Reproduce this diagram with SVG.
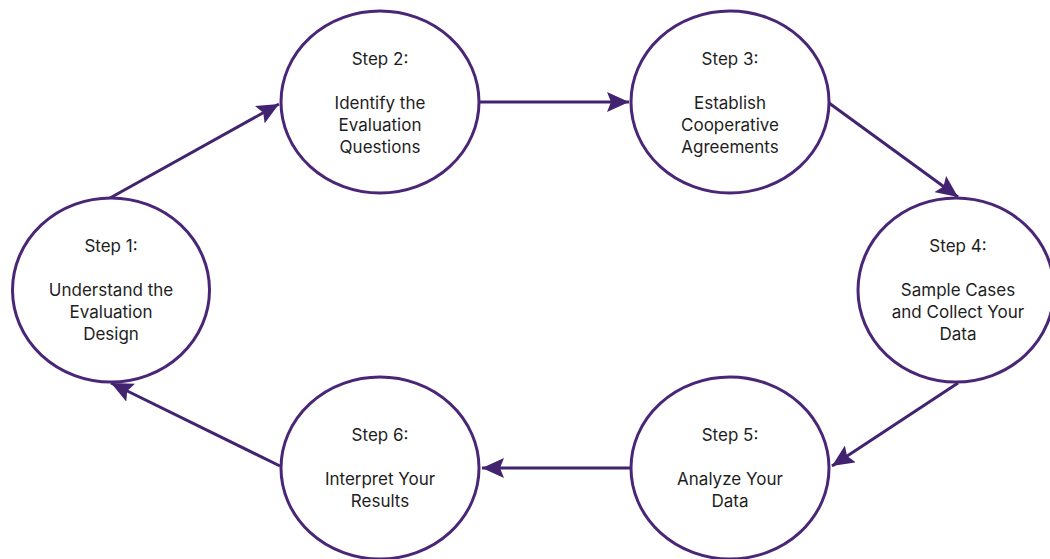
<svg xmlns="http://www.w3.org/2000/svg" width="1050" height="559" viewBox="0 0 1050 559">
<style>
.node ellipse{fill:#fff;stroke:#4a2677;stroke-width:3}
.node text{font-family:Inter,"Liberation Sans",sans-serif;font-size:17px;fill:#1e1e1e;text-anchor:middle}
.conn line{stroke:#42236f;stroke-width:3}
</style>
<defs>
<marker id="ah" markerUnits="userSpaceOnUse" markerWidth="24" markerHeight="20" refX="22" refY="10" orient="auto">
<path d="M0,0 L22,10 L0,20 L4,10 Z" fill="#42236f"/>
</marker>
</defs>
<rect width="1050" height="559" fill="#fff"/>
<g class="conn">
<line x1="110" y1="198" x2="279" y2="104" marker-end="url(#ah)"/>
<line x1="480" y1="102" x2="629" y2="102" marker-end="url(#ah)"/>
<line x1="829" y1="103" x2="958" y2="197" marker-end="url(#ah)"/>
<line x1="958" y1="383" x2="832" y2="466" marker-end="url(#ah)"/>
<line x1="630" y1="468" x2="482" y2="468" marker-end="url(#ah)"/>
<line x1="280" y1="466" x2="111" y2="383" marker-end="url(#ah)"/>
</g>
<g id="step1" class="node">
<ellipse cx="111" cy="290" rx="98.5" ry="92"/>
<text x="111" y="252">Step 1:</text>
<text x="111" y="296">Understand the</text>
<text x="111" y="318">Evaluation</text>
<text x="111" y="340">Design</text>
</g>
<g id="step2" class="node">
<ellipse cx="380" cy="102" rx="99" ry="91"/>
<text x="380" y="65">Step 2:</text>
<text x="380" y="109">Identify the</text>
<text x="380" y="131">Evaluation</text>
<text x="380" y="153">Questions</text>
</g>
<g id="step3" class="node">
<ellipse cx="730" cy="102" rx="99" ry="91"/>
<text x="730" y="65">Step 3:</text>
<text x="730" y="109">Establish</text>
<text x="730" y="131">Cooperative</text>
<text x="730" y="153">Agreements</text>
</g>
<g id="step4" class="node">
<ellipse cx="956" cy="290" rx="98" ry="92"/>
<text x="958" y="252">Step 4:</text>
<text x="958" y="296">Sample Cases</text>
<text x="958" y="318">and Collect Your</text>
<text x="958" y="340">Data</text>
</g>
<g id="step5" class="node">
<ellipse cx="730" cy="468" rx="99" ry="91"/>
<text x="730" y="441">Step 5:</text>
<text x="730" y="485">Analyze Your</text>
<text x="730" y="507">Data</text>
</g>
<g id="step6" class="node">
<ellipse cx="380" cy="468" rx="99" ry="91"/>
<text x="380" y="441">Step 6:</text>
<text x="380" y="485">Interpret Your</text>
<text x="380" y="507">Results</text>
</g>
</svg>
